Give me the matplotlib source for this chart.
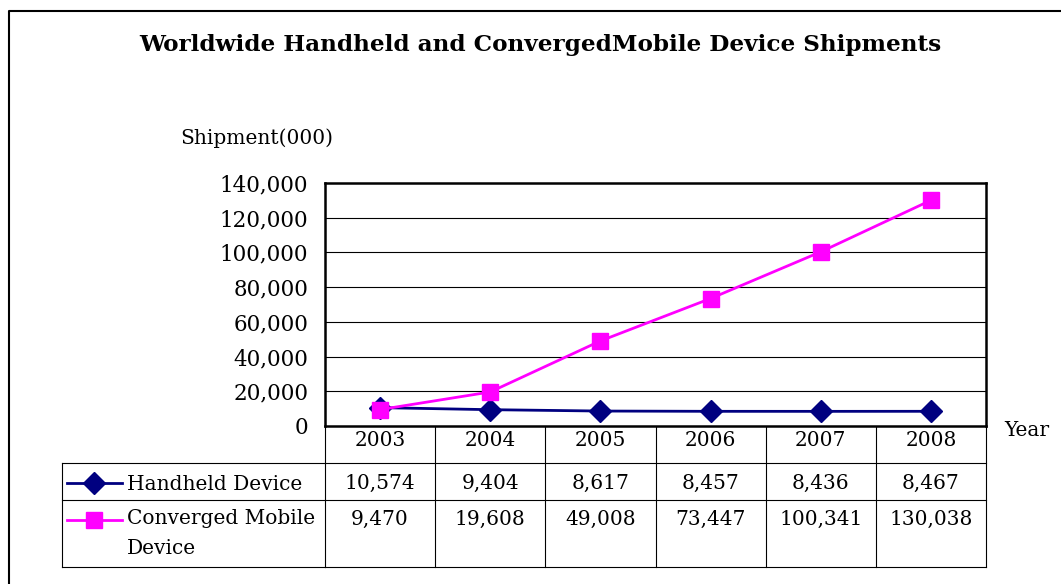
import matplotlib
matplotlib.use('Agg')
import matplotlib.pyplot as plt
import matplotlib.transforms as mtransforms

# Dados
anos = ['2003', '2004', '2005', '2006', '2007', '2008']
handheld = [10574, 9404, 8617, 8457, 8436, 8467]
convergente = [9470, 19608, 49008, 73447, 100341, 130038]
nome_handheld = 'Handheld Device'
nome_convergente = 'Converged Mobile\nDevice'
titulo = 'Worldwide Handheld and ConvergedMobile Device Shipments'

plt.rcParams['font.family'] = 'DejaVu Serif'
W, H = 1061, 584
fig = plt.figure(figsize=(W / 100, H / 100), dpi=100)

# Camada de fundo em pixels (moldura, tabela, textos)
ov = fig.add_axes([0, 0, 1, 1])
ov.set_xlim(0, W)
ov.set_ylim(H, 0)
ov.axis('off')

# Area do grafico
x0, x1, y0, y1 = 325, 986, 183, 426
ax = fig.add_axes([x0 / W, (H - y1) / H, (x1 - x0) / W, (y1 - y0) / H])
ax.set_xlim(-0.5, len(anos) - 0.5)
ax.set_ylim(0, 140000)
ax.set_yticks(range(0, 140001, 20000))
ax.set_yticklabels([f'{v:,}' for v in range(0, 140001, 20000)], fontsize=15.5)
ax.tick_params(axis='y', length=0, pad=12)
ax.set_xticks([])
for s in ax.spines.values():
    s.set_linewidth(1.8)
for v in range(20000, 140000, 20000):
    ax.axhline(v, color='black', lw=0.8, zorder=1)

xs = range(len(anos))
ax.plot(xs, handheld, color='#000080', lw=2, marker='D', ms=11, zorder=3)
ax.plot(xs, convergente, color='#FF00FF', lw=2, marker='s', ms=12, zorder=4)

# Moldura externa
ov.plot([9, 9, W + 5], [H + 5, 11, 11], color='black', lw=1.5)

ov.text(540, 45, titulo, ha='center', va='center', fontsize=16.7, fontweight='bold')
ov.text(180, 138, 'Shipment(000)', ha='left', va='center', fontsize=14.5)
ov.text(1004, 431, 'Year', ha='left', va='center', fontsize=14.5)

# Tabela de dados
tr = mtransforms.blended_transform_factory(ax.transData, ov.transData)
r0, r1, r2, r3 = y1, 463, 500, 567
for i in range(len(anos) + 1):
    ov.plot([i - 0.5, i - 0.5], [r0, r3], color='black', lw=0.8, transform=tr)
xe = len(anos) - 0.5
for r in (r1, r2, r3):
    ov.plot([62, x0], [r, r], color='black', lw=0.8)
    ov.plot([-0.5, xe], [r, r], color='black', lw=0.8, transform=tr)
ov.plot([62, 62], [r1, r3], color='black', lw=0.8)

for i, ano in enumerate(anos):
    ov.text(i, 441, ano, ha='center', va='center', fontsize=14.5, transform=tr)
    ov.text(i, 483, f'{handheld[i]:,}', ha='center', va='center', fontsize=14.5, transform=tr)
    ov.text(i, 519, f'{convergente[i]:,}', ha='center', va='center', fontsize=14.5, transform=tr)

# Chaves da legenda dentro da tabela
ov.plot([67, 122], [483, 483], color='#000080', lw=2)
ov.plot([94], [483], color='#000080', marker='D', ms=11)
ov.text(127, 484, nome_handheld, ha='left', va='center', fontsize=14.5)
ov.plot([67, 122], [520, 520], color='#FF00FF', lw=2)
ov.plot([94], [520], color='#FF00FF', marker='s', ms=12)
ov.text(127, 509, nome_convergente, ha='left', va='top', fontsize=14.5, linespacing=1.75)

fig.savefig('out.png', dpi=100)
